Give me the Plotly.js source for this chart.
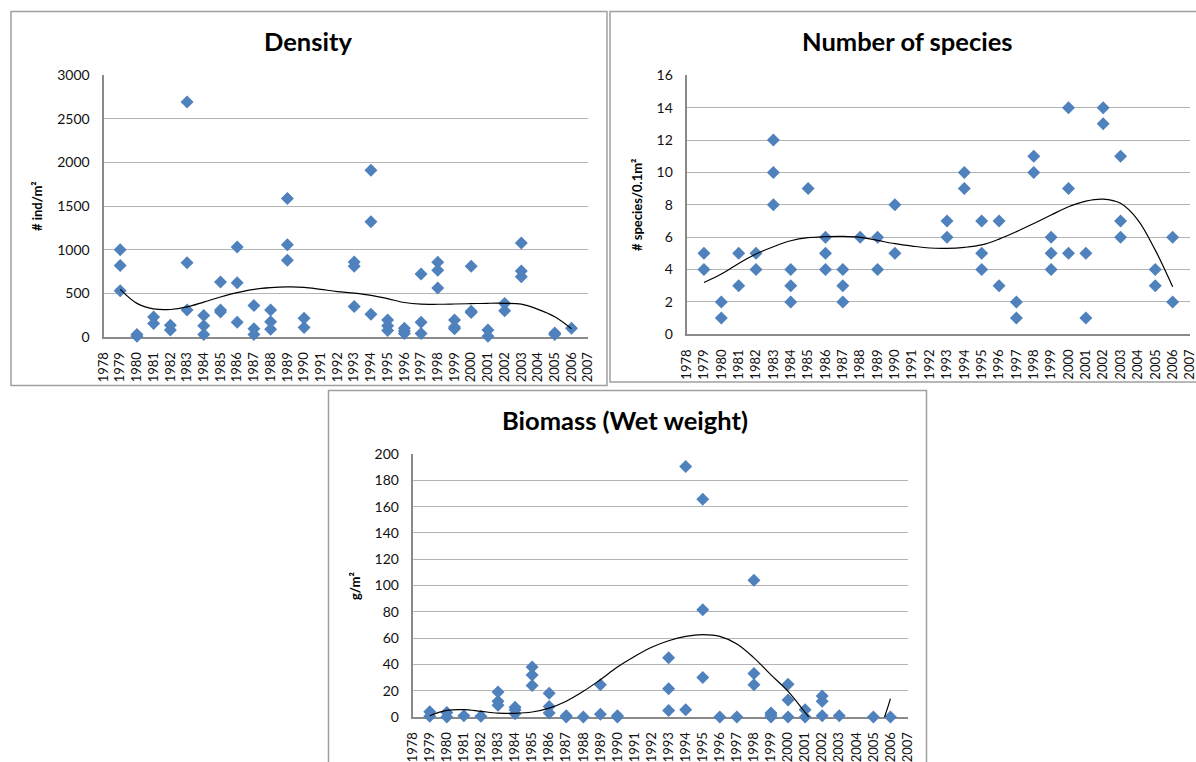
<!DOCTYPE html>
<html>
<head>
<meta charset="utf-8">
<script src="https://cdn.plot.ly/plotly-3.0.1.min.js"></script>
<style>html,body{margin:0;padding:0;background:#fff;}#chart{width:1196px;height:762px;}</style>
</head>
<body>
<div id="chart"></div>
<script>
// ---------- DATA ----------
var yearTicks = [1978,1979,1980,1981,1982,1983,1984,1985,1986,1987,1988,1989,1990,1991,1992,1993,1994,1995,1996,1997,1998,1999,2000,2001,2002,2003,2004,2005,2006,2007];

var densityYears = [1979,1979,1979,1980,1980,1981,1981,1982,1982,1983,1983,1983,1984,1984,1984,1985,1985,1985,1986,1986,1986,1987,1987,1987,1988,1988,1988,1989,1989,1989,1990,1990,1993,1993,1993,1994,1994,1994,1995,1995,1995,1996,1996,1996,1997,1997,1997,1998,1998,1998,1999,1999,1999,2000,2000,2000,2001,2001,2002,2002,2003,2003,2003,2005,2005,2006];
var densityValues = [1000,820,530,30,10,230,155,135,80,2690,850,310,245,130,30,630,310,285,1030,620,170,360,95,30,310,175,90,1585,1055,880,215,110,860,810,350,1910,1320,260,195,130,75,100,70,40,720,170,40,855,765,560,195,115,95,810,295,280,80,10,385,300,1075,755,690,45,30,100];

var speciesYears = [1979,1979,1980,1980,1981,1981,1982,1982,1983,1983,1983,1984,1984,1984,1985,1986,1986,1986,1987,1987,1987,1988,1989,1989,1990,1990,1993,1993,1994,1994,1995,1995,1995,1996,1996,1997,1997,1998,1998,1999,1999,1999,2000,2000,2000,2001,2001,2002,2002,2003,2003,2003,2005,2005,2006,2006];
var speciesValues = [5,4,2,1,5,3,5,4,12,10,8,4,3,2,9,6,5,4,4,3,2,6,6,4,8,5,7,6,10,9,7,5,4,7,3,2,1,11,10,6,5,4,14,9,5,5,1,14,13,11,7,6,4,3,6,2];

var biomassYears = [1979,1979,1980,1980,1981,1982,1983,1983,1983,1984,1984,1984,1985,1985,1985,1986,1986,1986,1987,1987,1988,1989,1989,1990,1990,1993,1993,1993,1994,1994,1995,1995,1995,1996,1997,1998,1998,1998,1999,1999,1999,2000,2000,2000,2001,2001,2002,2002,2002,2003,2005,2006];
var biomassValues = [4,0.5,3.5,0,1,0.5,19,12,9,7.5,5.5,2.5,38,32,24,18,8,3,1,0,0,24.5,2,1,0,45,21.5,5,190.5,5.5,165.5,81.5,30,0,0,104,33,24.5,3,1.5,0,25,13,0,5.5,0,16,12,1,1,0,0];

// polynomial trendlines (values at each year)
var trendYears = [1979,1980,1981,1982,1983,1984,1985,1986,1987,1988,1989,1990,1991,1992,1993,1994,1995,1996,1997,1998,1999,2000,2001,2002,2003,2004,2005,2006];
var densityTrend = [545,385,322,315,344,400,458,508,546,565,573,569,545,520,502,477,439,395,376,375,378,382,386,386,376,317,232,95];
var speciesTrend = [3.2,3.72,4.38,4.96,5.41,5.78,5.97,6.03,6.05,5.99,5.8,5.6,5.45,5.33,5.31,5.37,5.52,5.88,6.34,6.85,7.37,7.88,8.23,8.35,8.09,7.06,5.2,2.94];
var biomassTrend = [1,5,5.6,4.3,3,2.8,3.8,6.8,12,19.5,28.4,38,46,53,58,61.3,62.6,61.3,55.5,45,32,19.5,3.5,-13,-24,-27,-18,14];

var titles = ["Density", "Number of species", "Biomass (Wet weight)"];
var yTitles = ["# ind/m\u00b2", "# species/0.1m\u00b2", "g/m\u00b2"];

// ---------- LAYOUT HELPERS ----------
var W = 1196, H = 762;
function fx(px){ return px / W; }
function fy(py){ return 1 - py / H; }

var FONT = "Lato, 'Open Sans', Arial, sans-serif";
var markerStyle = {symbol: "diamond", size: 10, color: "#4F81BD", line: {width: 0}};
var trendStyle = {color: "#000000", width: 1.2, shape: "spline", smoothing: 1};

function mkX(domain, anchor){
  return {domain: domain, anchor: anchor, range: [1978, 2007], tickmode: "array", tickvals: yearTicks,
    ticktext: yearTicks.map(String), tickangle: -90, showgrid: false, zeroline: false,
    showline: true, linecolor: "#8a8a8a", linewidth: 2, ticks: "", ticklabelstandoff: 8,
    ticklabeloverflow: "allow",
    tickfont: {family: FONT, size: 13, color: "#111"}, layer: "below traces", fixedrange: true};
}
function mkY(domain, anchor, range, dtick){
  return {domain: domain, anchor: anchor, range: range, dtick: dtick, tick0: 0, showgrid: true,
    gridcolor: "#b4b4b4", gridwidth: 1, zeroline: false, showline: true, linecolor: "#8a8a8a",
    linewidth: 2, ticks: "", ticklabelstandoff: 9, tickfont: {family: FONT, size: 14, color: "#111"},
    layer: "below traces", fixedrange: true};
}

var data = [
  {x: densityYears, y: densityValues, xaxis: "x", yaxis: "y", type: "scatter", mode: "markers", marker: markerStyle, cliponaxis: false, name: "Density"},
  {x: trendYears, y: densityTrend, xaxis: "x", yaxis: "y", type: "scatter", mode: "lines", line: trendStyle, name: "Density trend"},
  {x: speciesYears, y: speciesValues, xaxis: "x2", yaxis: "y2", type: "scatter", mode: "markers", marker: markerStyle, cliponaxis: false, name: "Species"},
  {x: trendYears, y: speciesTrend, xaxis: "x2", yaxis: "y2", type: "scatter", mode: "lines", line: trendStyle, name: "Species trend"},
  {x: biomassYears, y: biomassValues, xaxis: "x3", yaxis: "y3", type: "scatter", mode: "markers", marker: markerStyle, cliponaxis: false, name: "Biomass"},
  {x: trendYears, y: biomassTrend, xaxis: "x3", yaxis: "y3", type: "scatter", mode: "lines", line: trendStyle, name: "Biomass trend"}
];

var layout = {
  width: W, height: H, margin: {l: 0, r: 0, t: 0, b: 0}, showlegend: false,
  paper_bgcolor: "#ffffff", plot_bgcolor: "rgba(0,0,0,0)",
  font: {family: FONT, color: "#111"},
  xaxis: mkX([fx(103.5), fx(588.2)], "y"),
  yaxis: mkY([fy(337), fy(75)], "x", [0, 3000], 500),
  xaxis2: mkX([fx(686.6), fx(1190)], "y2"),
  yaxis2: mkY([fy(334.3), fy(75.3)], "x2", [0, 16], 2),
  xaxis3: mkX([fx(412.7), fx(907.5)], "y3"),
  yaxis3: mkY([fy(717), fy(454)], "x3", [0, 200], 20),
  shapes: [
    {type: "rect", xref: "paper", yref: "paper", x0: fx(11), x1: fx(607), y0: fy(385.5), y1: fy(11.5), line: {color: "#a0a0a0", width: 1.5}},
    {type: "rect", xref: "paper", yref: "paper", x0: fx(610), x1: fx(1205), y0: fy(382), y1: fy(11.5), line: {color: "#a0a0a0", width: 1.5}},
    {type: "rect", xref: "paper", yref: "paper", x0: fx(328.5), x1: fx(926.5), y0: fy(770), y1: fy(390.5), line: {color: "#a0a0a0", width: 1.5}}
  ],
  annotations: [
    {text: "<b>" + titles[0] + "</b>", xref: "paper", yref: "paper", x: fx(308), y: fy(41), showarrow: false, xanchor: "center", yanchor: "middle", font: {family: FONT, size: 25.5, color: "#000"}},
    {text: "<b>" + titles[1] + "</b>", xref: "paper", yref: "paper", x: fx(907), y: fy(41), showarrow: false, xanchor: "center", yanchor: "middle", font: {family: FONT, size: 25.5, color: "#000"}},
    {text: "<b>" + titles[2] + "</b>", xref: "paper", yref: "paper", x: fx(625), y: fy(420), showarrow: false, xanchor: "center", yanchor: "middle", font: {family: FONT, size: 25.5, color: "#000"}},
    {text: "<b>" + yTitles[0] + "</b>", xref: "paper", yref: "paper", x: fx(37), y: fy(206), textangle: -90, showarrow: false, xanchor: "center", yanchor: "middle", font: {family: FONT, size: 13, color: "#000"}},
    {text: "<b>" + yTitles[1] + "</b>", xref: "paper", yref: "paper", x: fx(637), y: fy(205), textangle: -90, showarrow: false, xanchor: "center", yanchor: "middle", font: {family: FONT, size: 13, color: "#000"}},
    {text: "<b>" + yTitles[2] + "</b>", xref: "paper", yref: "paper", x: fx(355), y: fy(586), textangle: -90, showarrow: false, xanchor: "center", yanchor: "middle", font: {family: FONT, size: 13, color: "#000"}}
  ]
};

Plotly.newPlot("chart", data, layout, {staticPlot: true, displayModeBar: false});
</script>
</body>
</html>
